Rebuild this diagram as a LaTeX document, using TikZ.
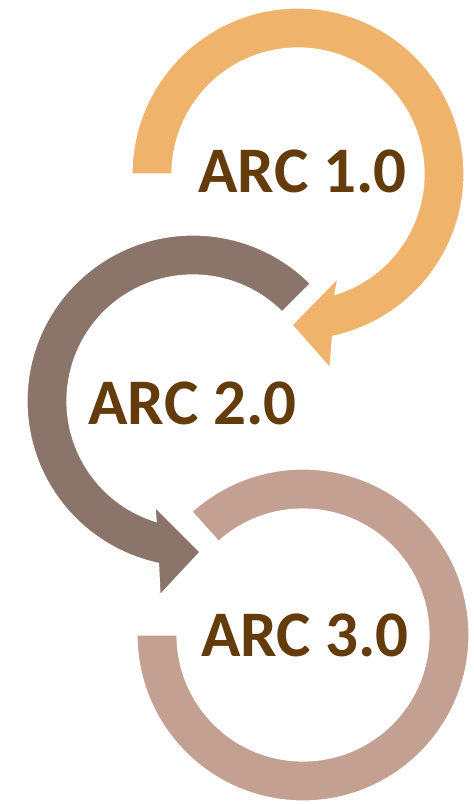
\documentclass[tikz,border=0pt]{standalone}
\usepackage{fontspec}
\setmainfont{Carlito}
\usetikzlibrary{calc}
\definecolor{arcorange}{RGB}{239,179,108}
\definecolor{arcbrown}{RGB}{139,116,106}
\definecolor{arcrose}{RGB}{196,160,146}
\definecolor{arctext}{RGB}{100,60,12}
\begin{document}
\begin{tikzpicture}[x=1pt,y=1pt,
  band/.style={draw=white,line width=1.2pt,line join=miter},
  label/.style={anchor=base,inner sep=0pt,text=arctext,font=\fontsize{65}{65}\selectfont\bfseries}]
\useasboundingbox (0,0) rectangle (474,804);
\fill[white] (0,0) rectangle (474,804);
\coordinate (c1) at (298,630);
\coordinate (c2) at (193,403);
\coordinate (c3) at (303,169);
% circle 3 (no arrow head)
\path[band,fill=arcrose] ($(c3)+(180:166)$) arc[start angle=180,end angle=492,radius=166]
  -- ($(c3)+(132:126)$) arc[start angle=492,end angle=180,radius=126] -- cycle;
% circle 2 with arrow head
\path[band,fill=arcbrown] ($(c2)+(45:166)$) arc[start angle=45,end angle=258,radius=166]
  -- (160,209) -- (200,252) -- (155,297)
  -- ($(c2)+(253:126)$) arc[start angle=253,end angle=45,radius=126] -- cycle;
% circle 1 with arrow head
\path[band,fill=arcorange] ($(c1)+(180:166)$) arc[start angle=180,end angle=-78,radius=166]
  -- (330,436) -- (292,479) -- (338,526)
  -- ($(c1)+(-73:126)$) arc[start angle=-73,end angle=180,radius=126] -- cycle;
\node[label] (t1) at (302.5,611) {ARC 1.0};
\node[label] (t2) at (192.5,379) {ARC 2.0};
\node[label] (t3) at (305,147) {ARC 3.0};
\end{tikzpicture}
\end{document}
